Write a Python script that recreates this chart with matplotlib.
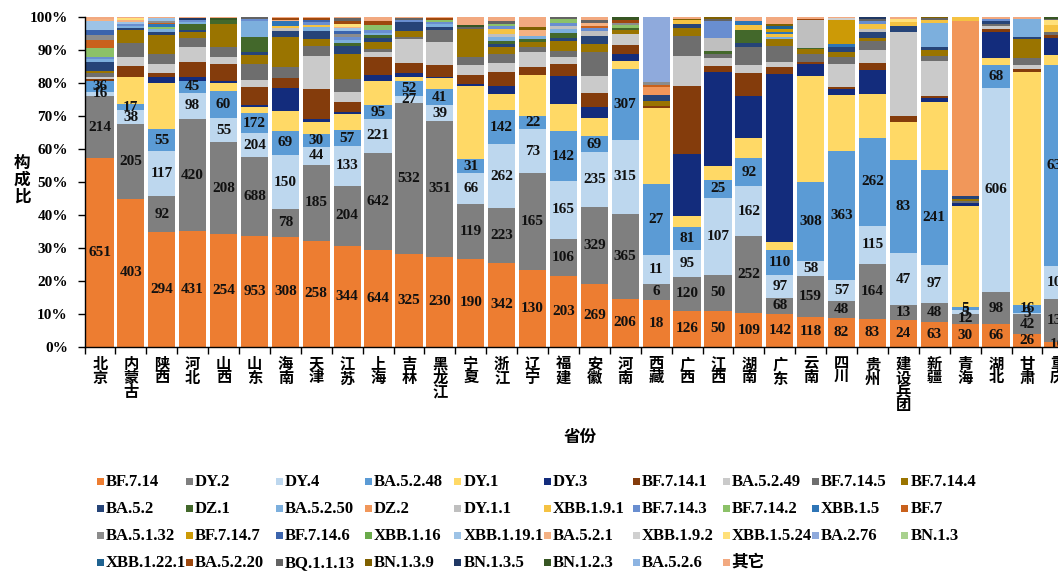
import numpy as np
import matplotlib
matplotlib.use("Agg")
import matplotlib.pyplot as plt
from matplotlib.patches import Rectangle

plt.rcParams['font.family'] = ['Liberation Serif', 'Noto Sans CJK SC']
plt.rcParams['font.weight'] = 'bold'

# --- lineages, bottom -> top of each stack (legend reads row by row in this order) ---
lineages = ["BF.7.14", "DY.2", "DY.4", "BA.5.2.48", "DY.1", "DY.3", "BF.7.14.1", "BA.5.2.49",
            "BF.7.14.5", "BF.7.14.4", "BA.5.2", "DZ.1", "BA.5.2.50", "DZ.2", "DY.1.1", "XBB.1.9.1",
            "BF.7.14.3", "BF.7.14.2", "XBB.1.5", "BF.7", "BA.5.1.32", "BF.7.14.7", "BF.7.14.6",
            "XBB.1.16", "XBB.1.19.1", "BA.5.2.1", "XBB.1.9.2", "XBB.1.5.24", "BA.2.76", "BN.1.3",
            "XBB.1.22.1", "BA.5.2.20", "BQ.1.1.13", "BN.1.3.9", "BN.1.3.5", "BN.1.2.3", "BA.5.2.6", "其它"]
colors = ["#ED7D31", "#7F7F7F", "#BDD7EE", "#5B9BD5", "#FFD966", "#132C7C", "#843C0C", "#CACACA",
          "#6E6E6E", "#9A7400", "#264478", "#43682B", "#7CAFDD", "#F1975A", "#BFBFBF", "#F5C242",
          "#698ED0", "#8CC168", "#2E75B6", "#C9611C", "#8C8C8C", "#CC9A06", "#3B64AD",
          "#6AAA4A", "#9DC3E6", "#F4B183", "#D0D0D0", "#FFE07A", "#8FAADC", "#A9D18E",
          "#1F6391", "#9E480E", "#636363", "#7F6000", "#203864", "#375623", "#8DB4E2", "#F2A980"]

provinces = ["北京", "内蒙古", "陕西", "河北", "山西", "山东", "海南", "天津", "江苏", "上海", "吉林",
             "黑龙江", "宁夏", "浙江", "辽宁", "福建", "安徽", "河南", "西藏", "广西", "江西", "湖南",
             "广东", "云南", "四川", "贵州", "建设兵团", "新疆", "青海", "湖北", "甘肃", "重庆"]

# --- sequence counts per province (lineages not listed = 0) ---
beijing = {"BF.7.14": 651, "DY.2": 214, "DY.4": 16, "BA.5.2.48": 36, "BF.7.14.1": 8, "BA.5.2.49": 8,
           "BF.7.14.5": 12, "BF.7.14.4": 7, "BA.5.2": 31, "BA.5.2.50": 12, "BF.7.14.3": 7, "BF.7.14.2": 31,
           "BF.7": 26, "BA.5.1.32": 17, "BF.7.14.6": 17, "XBB.1.19.1": 31, "BA.5.2.1": 9, "其它": 7}
neimenggu = {"BF.7.14": 403, "DY.2": 205, "DY.4": 38, "BA.5.2.48": 17, "DY.1": 74, "BF.7.14.1": 29,
             "BA.5.2.49": 26, "BF.7.14.5": 37, "BF.7.14.4": 37, "BA.5.2": 5, "BA.5.2.50": 5, "BF.7.14.3": 5,
             "XBB.1.19.1": 6, "BA.5.2.1": 5, "XBB.1.5.24": 6, "其它": 4}
shaanxi = {"BF.7.14": 294, "DY.2": 92, "DY.4": 117, "BA.5.2.48": 55, "DY.1": 119, "DY.3": 14, "BF.7.14.1": 11,
           "BA.5.2.49": 23, "BF.7.14.5": 25, "BF.7.14.4": 51, "BA.5.2": 8, "BA.5.2.50": 6, "BF.7.14.2": 6,
           "XBB.1.5": 6, "BF.7": 5, "BA.5.1.32": 5, "XBB.1.19.1": 6, "其它": 4}
hebei = {"BF.7.14": 431, "DY.2": 420, "DY.4": 98, "BA.5.2.48": 45, "DY.3": 13, "BF.7.14.1": 57, "BA.5.2.49": 57,
         "BF.7.14.5": 31, "BF.7.14.4": 23, "BA.5.2": 8, "DZ.1": 21, "BA.5.2.50": 10, "BF.7.14.3": 5,
         "BN.1.3.5": 9, "其它": 5}
shanxi = {"BF.7.14": 254, "DY.2": 208, "DY.4": 55, "BA.5.2.48": 60, "DY.1": 19, "DY.3": 4, "BF.7.14.1": 40,
          "BA.5.2.49": 16, "BF.7.14.5": 22, "BF.7.14.4": 52, "DZ.1": 9, "BN.1.2.3": 4, "其它": 3}
shandong = {"BF.7.14": 953, "DY.2": 688, "DY.4": 204, "BA.5.2.48": 172, "DY.1": 52, "DY.3": 17, "BF.7.14.1": 158,
            "BA.5.2.49": 58, "BF.7.14.5": 144, "BF.7.14.4": 78, "BA.5.2": 23, "DZ.1": 130, "BA.5.2.50": 135,
            "BF.7.14.3": 23, "BQ.1.1.13": 17}
hainan = {"BF.7.14": 308, "DY.2": 78, "DY.4": 150, "BA.5.2.48": 69, "DY.1": 54, "DY.3": 64, "BF.7.14.1": 28,
          "BF.7.14.5": 33, "BF.7.14.4": 82, "BA.5.2": 19, "DY.1.1": 6, "XBB.1.9.1": 6, "XBB.1.5": 14,
          "BA.5.2.1": 5, "BA.5.2.20": 4, "其它": 4}
tianjin = {"BF.7.14": 258, "DY.2": 185, "DY.4": 44, "BA.5.2.48": 30, "DY.1": 30, "DY.3": 6, "BF.7.14.1": 74,
           "BA.5.2.49": 81, "BF.7.14.5": 23, "BF.7.14.4": 18, "BA.5.2": 18, "BA.5.2.50": 10, "XBB.1.9.1": 5,
           "BF.7.14.3": 8, "BF.7.14.6": 5, "BA.5.2.20": 4, "其它": 4}
jiangsu = {"BF.7.14": 344, "DY.2": 204, "DY.4": 133, "BA.5.2.48": 57, "DY.1": 53, "DY.3": 8, "BF.7.14.1": 32,
           "BA.5.2.49": 34, "BF.7.14.5": 45, "BF.7.14.4": 86, "BA.5.2": 28, "DZ.1": 10, "BA.5.2.50": 10,
           "BF.7.14.3": 10, "BA.5.1.32": 8, "BF.7.14.6": 10, "XBB.1.19.1": 10, "BA.5.2.1": 5,
           "XBB.1.5.24": 11, "BA.5.2.20": 11, "BQ.1.1.13": 8, "其它": 5}
shanghai = {"BF.7.14": 644, "DY.2": 642, "DY.4": 221, "BA.5.2.48": 95, "DY.1": 157, "DY.3": 40, "BF.7.14.1": 122,
            "BA.5.2.49": 29, "BF.7.14.5": 22, "BF.7.14.4": 49, "BA.5.2": 22, "DZ.1": 22, "BA.5.2.50": 15,
            "BF.7.14.3": 22, "BF.7.14.2": 27, "BA.5.2.20": 27, "其它": 31}
jilin = {"BF.7.14": 325, "DY.2": 532, "DY.4": 27, "BA.5.2.48": 52, "DY.1": 12, "DY.3": 15, "BF.7.14.1": 37,
         "BA.5.2.49": 82, "BF.7.14.5": 8, "BF.7.14.4": 21, "BA.5.2": 32, "BF.7.14.3": 6, "BQ.1.1.13": 8, "其它": 5}
heilongjiang = {"BF.7.14": 230, "DY.2": 351, "DY.4": 39, "BA.5.2.48": 41, "DY.1": 30, "DY.3": 3, "BF.7.14.1": 30,
                "BA.5.2.49": 60, "BF.7.14.5": 30, "BA.5.2": 8, "BA.5.2.50": 8, "BF.7.14.3": 5, "BF.7.14.2": 5,
                "BA.5.2.20": 4, "其它": 4}
ningxia = {"BF.7.14": 190, "DY.2": 119, "DY.4": 66, "BA.5.2.48": 31, "DY.1": 158, "DY.3": 5, "BF.7.14.1": 18,
           "BA.5.2.49": 22, "BF.7.14.5": 18, "BF.7.14.4": 60, "BQ.1.1.13": 4, "BN.1.2.3": 5, "其它": 18}
zhejiang = {"BF.7.14": 342, "DY.2": 223, "DY.4": 262, "BA.5.2.48": 142, "DY.1": 62, "DY.3": 36, "BF.7.14.1": 55,
            "BA.5.2.49": 36, "BF.7.14.5": 40, "BF.7.14.4": 27, "BA.5.2": 14, "DZ.1": 12, "BA.5.2.50": 14,
            "DY.1.1": 12, "XBB.1.9.1": 21, "BF.7.14.3": 12, "BF.7.14.2": 10, "BQ.1.1.13": 10, "其它": 19}
liaoning = {"BF.7.14": 130, "DY.2": 165, "DY.4": 73, "BA.5.2.48": 22, "DY.1": 70, "BF.7.14.1": 13,
            "BA.5.2.49": 26, "BF.7.14.5": 8, "BF.7.14.4": 9, "DZ.1": 5, "BA.5.2.50": 5, "BA.5.2.1": 11,
            "BN.1.3.9": 5, "其它": 17}
fujian = {"BF.7.14": 203, "DY.2": 106, "DY.4": 165, "BA.5.2.48": 142, "DY.1": 79, "DY.3": 78, "BF.7.14.1": 36,
          "BA.5.2.49": 19, "BF.7.14.5": 19, "BF.7.14.4": 27, "BA.5.2": 8, "DZ.1": 14, "BA.5.2.50": 12,
          "DY.1.1": 8, "BF.7.14.3": 10, "BF.7.14.2": 12, "BQ.1.1.13": 6}
anhui = {"BF.7.14": 269, "DY.2": 329, "DY.4": 235, "BA.5.2.48": 69, "DY.1": 77, "DY.3": 46, "BF.7.14.1": 61,
         "BA.5.2.49": 73, "BF.7.14.5": 104, "BF.7.14.4": 33, "BA.5.2": 36, "DY.1.1": 20, "BF.7.14.3": 14,
         "BF.7": 10, "BA.5.2.1": 12, "BQ.1.1.13": 10, "其它": 16}
henan = {"BF.7.14": 206, "DY.2": 365, "DY.4": 315, "BA.5.2.48": 307, "DY.1": 31, "DY.3": 33, "BF.7.14.1": 36,
         "BA.5.2.49": 50, "BF.7.14.4": 18, "DZ.1": 8, "BF.7.14.2": 12, "BA.5.1.32": 10, "BA.5.2.20": 10,
         "BN.1.2.3": 15}
xizang = {"BF.7.14": 18, "DY.2": 6, "DY.4": 11, "BA.5.2.48": 27, "DY.1": 29, "BF.7.14.1": 1, "BF.7.14.4": 2,
          "BA.5.2": 2, "DZ.2": 3, "BF.7": 1, "BA.5.1.32": 1, "BA.2.76": 25}
guangxi = {"BF.7.14": 126, "DY.2": 120, "DY.4": 95, "BA.5.2.48": 81, "DY.1": 37, "DY.3": 218, "BF.7.14.1": 239,
           "BA.5.2.49": 105, "BF.7.14.5": 70, "BF.7.14.4": 29, "BA.5.2": 14, "XBB.1.9.1": 12, "BN.1.3.9": 6,
           "其它": 7}
jiangxi = {"BF.7.14": 50, "DY.2": 50, "DY.4": 107, "BA.5.2.48": 25, "DY.1": 19, "DY.3": 130, "BF.7.14.1": 9,
           "BA.5.2.49": 10, "BF.7.14.5": 6, "DZ.1": 4, "DY.1.1": 19, "BF.7.14.3": 23, "BQ.1.1.13": 3,
           "BN.1.3.9": 3}
hunan = {"BF.7.14": 109, "DY.2": 252, "DY.4": 162, "BA.5.2.48": 92, "DY.1": 66, "DY.3": 138, "BF.7.14.1": 73,
         "BA.5.2.49": 27, "BF.7.14.5": 60, "BA.5.2": 11, "DZ.1": 43, "XBB.1.9.1": 16, "XBB.1.5": 13, "其它": 15}
guangdong = {"BF.7.14": 142, "DY.2": 68, "DY.4": 97, "BA.5.2.48": 110, "DY.1": 35, "DY.3": 724, "BF.7.14.1": 29,
             "BA.5.2.49": 21, "BF.7.14.5": 69, "BF.7.14.4": 30, "BA.5.2.50": 10, "XBB.1.9.1": 12, "XBB.1.5": 10,
             "BF.7.14.7": 12, "XBB.1.22.1": 10, "BN.1.3.9": 12, "其它": 30}
yunnan = {"BF.7.14": 118, "DY.2": 159, "DY.4": 58, "BA.5.2.48": 308, "DY.1": 417, "DY.3": 46, "BF.7.14.1": 8,
          "BF.7.14.5": 33, "BF.7.14.4": 17, "DZ.1": 6, "DY.1.1": 108, "BA.5.2.20": 6, "其它": 8}
sichuan = {"BF.7.14": 82, "DY.2": 48, "DY.4": 57, "BA.5.2.48": 363, "DY.1": 158, "DY.3": 17, "BF.7.14.1": 5,
           "BA.5.2.49": 66, "BF.7.14.5": 19, "BF.7.14.4": 16, "BA.5.2": 14, "XBB.1.5": 8, "BF.7.14.7": 66,
           "XBB.1.9.2": 5, "其它": 5}
guizhou = {"BF.7.14": 83, "DY.2": 164, "DY.4": 115, "BA.5.2.48": 262, "DY.1": 132, "DY.3": 71, "BF.7.14.1": 20,
           "BA.5.2.49": 40, "BF.7.14.5": 25, "BF.7.14.4": 10, "BA.5.2": 17, "DY.1.1": 10, "XBB.1.9.1": 15,
           "BF.7.14.3": 10, "BQ.1.1.13": 6, "BN.1.3.5": 6}
bingtuan = {"BF.7.14": 24, "DY.2": 13, "DY.4": 47, "BA.5.2.48": 83, "DY.1": 34, "BF.7.14.1": 5, "BA.5.2.49": 75,
            "BA.5.2": 6, "XBB.1.9.1": 3, "XBB.1.5.24": 3, "其它": 2}
xinjiang = {"BF.7.14": 63, "DY.2": 48, "DY.4": 97, "BA.5.2.48": 241, "DY.1": 174, "DY.3": 10, "BF.7.14.1": 5,
            "BA.5.2.49": 89, "BF.7.14.5": 11, "BF.7.14.4": 17, "BA.5.2": 8, "BA.5.2.50": 60, "XBB.1.9.1": 8,
            "BQ.1.1.13": 4, "BN.1.3.9": 4}
qinghai = {"BF.7.14": 30, "DY.2": 12, "DY.4": 5, "BA.5.2.48": 5, "DY.1": 130, "DY.3": 5, "BF.7.14.5": 2,
           "BF.7.14.4": 3, "BA.5.2": 3, "DZ.2": 227, "XBB.1.9.1": 6}
hubei = {"BF.7.14": 66, "DY.2": 98, "DY.4": 606, "BA.5.2.48": 68, "DY.1": 20, "DY.3": 79, "BF.7.14.1": 7,
         "BA.5.2.49": 8, "BF.7.14.5": 8, "BA.5.2": 9, "BF.7.14.3": 6, "其它": 6}
gansu = {"BF.7.14": 26, "DY.2": 42, "DY.4": 3, "BA.5.2.48": 16, "DY.1": 484, "BF.7.14.1": 7, "BA.5.2.49": 8,
         "BF.7.14.5": 14, "BF.7.14.4": 41, "BA.5.2": 4, "BA.5.2.50": 37, "其它": 5}
chongqing = {"BF.7.14": 16, "DY.2": 135, "DY.4": 106, "BA.5.2.48": 636, "DY.1": 32, "DY.3": 53, "BF.7.14.1": 10,
             "BF.7.14.5": 8, "XBB.1.9.1": 25, "XBB.1.5.24": 13, "BQ.1.1.13": 6, "BN.1.2.3": 6}

province_counts = [beijing, neimenggu, shaanxi, hebei, shanxi, shandong, hainan, tianjin, jiangsu, shanghai,
                   jilin, heilongjiang, ningxia, zhejiang, liaoning, fujian, anhui, henan, xizang, guangxi,
                   jiangxi, hunan, guangdong, yunnan, sichuan, guizhou, bingtuan, xinjiang, qinghai, hubei,
                   gansu, chongqing]
n_labeled = 4  # counts are printed on the first four lineages

# --- layout (pixels of the 1058x571 canvas) ---
W, H = 1058, 571
fig = plt.figure(figsize=(W / 100, H / 100), dpi=100)
# the original picture is cropped on the right, so the axes run past the canvas edge
ax = fig.add_axes([84.5 / W, 1 - 346.7 / H, 32 * 30.9 / W, 330 / H])

counts = np.array([[d.get(name, 0) for d in province_counts] for name in lineages], dtype=float)
share = counts / counts.sum(axis=0) * 100
bottoms = np.vstack([np.zeros(len(provinces)), np.cumsum(share, axis=0)[:-1]])
x = np.arange(len(provinces))

for i, name in enumerate(lineages):
    ax.bar(x, share[i], bottom=bottoms[i], width=0.88, color=colors[i], linewidth=0)
    if i < n_labeled:
        for j in range(len(provinces)):
            ax.text(x[j], bottoms[i][j] + share[i][j] / 2, f"{int(counts[i][j])}",
                    ha='center', va='center', fontsize=11, fontweight='bold', color='#111111')

ax.set_xlim(-0.5, len(provinces) - 0.5)
ax.set_ylim(0, 100)
ax.set_yticks(np.arange(0, 101, 10), [f"{v}%" for v in range(0, 101, 10)], fontsize=11, fontweight='bold')
ax.set_xticks(x, ["\n".join(p) for p in provinces], fontsize=11, fontweight='bold', linespacing=1.0)
ax.set_xticks(np.arange(len(provinces) + 1) - 0.5, minor=True)
ax.tick_params(axis='x', which='major', length=0, pad=8)
ax.tick_params(axis='x', which='minor', length=5, direction='out', width=1)
ax.tick_params(axis='y', length=5, direction='out', width=1, pad=7)
for side in ('top', 'right'):
    ax.spines[side].set_visible(False)
for side in ('left', 'bottom'):
    ax.spines[side].set_linewidth(1)
    ax.spines[side].set_color('black')

fig.text(22 / W, 1 - 181 / H, "构\n成\n比", ha='center', va='center', fontsize=12, fontweight='bold',
         linespacing=1.05)
fig.text(580 / W, 1 - 438 / H, "省份", ha='center', va='center', fontsize=12, fontweight='bold')

# --- legend: 10 columns, filled row by row ---
for i, name in enumerate(lineages):
    row, col = divmod(i, 10)
    lx = 96.7 + 89.4 * col
    ly = 481.7 + 27 * row
    fig.patches.append(Rectangle((lx / W, 1 - (ly + 3.5) / H), 7 / W, 7 / H,
                                 transform=fig.transFigure, color=colors[i], linewidth=0))
    fig.text((lx + 9) / W, 1 - ly / H, name, ha='left', va='center', fontsize=12, fontweight='bold')

fig.savefig("out.png", dpi=100)
